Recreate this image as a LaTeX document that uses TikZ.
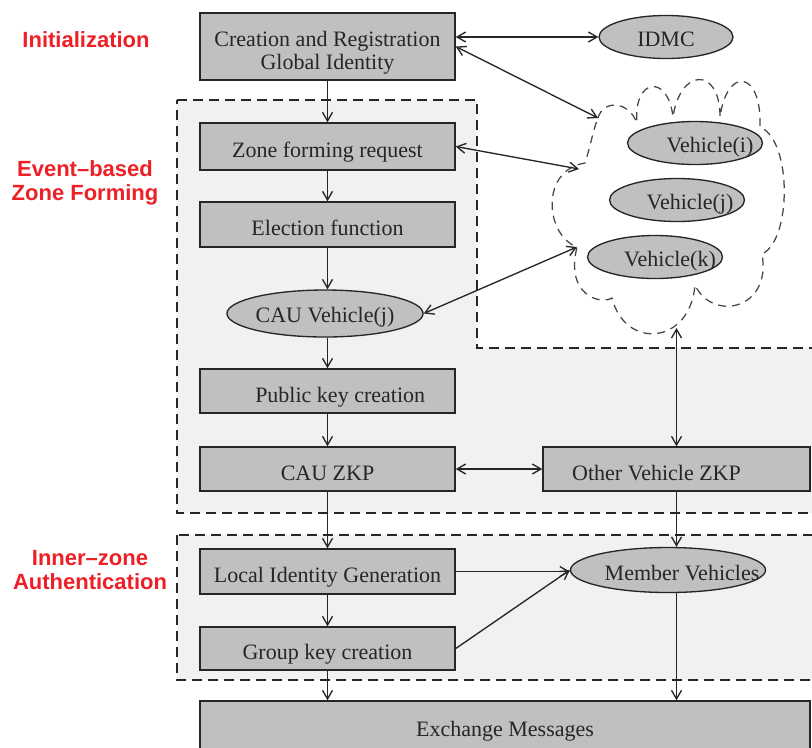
\documentclass[tikz,border=0pt]{standalone}
\usepackage{fontspec}
\setmainfont{Liberation Serif}
\newfontfamily\labelfont{Liberation Sans}
\usetikzlibrary{arrows.meta,shapes.geometric,calc}
\definecolor{boxgray}{RGB}{192,192,192}
\definecolor{zonegray}{RGB}{241,241,241}
\definecolor{phasered}{RGB}{236,32,38}
\definecolor{inkgray}{RGB}{38,38,38}

\begin{document}
\begin{tikzpicture}[x=0.75pt,y=-0.75pt,
  font=\fontsize{16.5}{17}\selectfont,
  stepbox/.style={draw=inkgray, line width=1.1pt, fill=boxgray, minimum width=191.25pt,
                  inner sep=0pt, text=black!85, align=center},
  oneline/.style={text height=17pt, text depth=0pt},
  oval/.style={ellipse, draw=inkgray, line width=1pt, fill=boxgray, inner sep=0pt, text=black!85},
  plain/.style={inner sep=0pt, text=black!85},
  link/.style={draw=inkgray, line width=1pt, -{Straight Barb[length=6.5pt,width=7.5pt]}},
  both/.style={link, {Straight Barb[length=6.5pt,width=7.5pt]}-{Straight Barb[length=6.5pt,width=7.5pt]}},
  zone/.style={draw=inkgray, fill=zonegray, line width=1.1pt, dash pattern=on 7.5pt off 4.5pt},
  cloudline/.style={draw=black!72, line width=0.95pt, dash pattern=on 6pt off 4.5pt},
  phase/.style={text=phasered, font=\labelfont\bfseries\fontsize{16.5}{18}\selectfont,
                align=center, inner sep=0pt}
]
\useasboundingbox (0,0) rectangle (812,747);
\clip (0,0) rectangle (812,747);
\fill[white] (0,0) rectangle (812,747);

% phase regions
\path[zone] (177,100) -- (477,100) -- (477,348) -- (822,348) -- (822,513) -- (177,513) -- cycle;
\path[zone] (177,535) rectangle (822,680);

% phase labels
\node[phase] (lbInit) at (86,40) {Initialization};
\node[phase] (lbZone) at (85,183) {Event–based\\Zone Forming};
\node[phase] (lbInner) at (90,570) {Inner–zone\\Authentication};

% vehicle cloud
\draw[cloudline] (598,118) .. controls (603,100) and (628,100) .. (637,123)
  .. controls (633,78) and (668,73) .. (673,117)
  .. controls (680,68) and (720,66) .. (720,117)
  .. controls (727,66) and (762,70) .. (760,127)
  .. controls (792,140) and (792,240) .. (762,254)
  .. controls (772,310) and (712,322) .. (695,285)
  .. controls (690,345) and (625,350) .. (612,298)
  .. controls (600,305) and (565,295) .. (577,247)
  .. controls (545,235) and (540,170) .. (585,163)
  .. controls (590,148) and (593,130) .. (598,118) -- cycle;
\coordinate (cA) at (598,118);
\coordinate (cB) at (579,169);
\coordinate (cC) at (577,247);
\coordinate (cBot) at (676.5,328);

% main flow boxes
\node[stepbox, minimum height=50.25pt] (init) at (327.5,46.5)
  {\rule{0pt}{20.5pt}Creation and Registration\\Global Identity};
\node[stepbox, oneline, minimum height=35.25pt] (zfr) at (327.5,146.5) {Zone forming request};
\node[stepbox, oneline, minimum height=33.75pt] (elec) at (327.5,224.5) {Election function};
\node[oval, text height=14pt, text depth=0pt, minimum width=144pt, minimum height=35.25pt] (cauv)
  at (325,313.5) {CAU Vehicle(j)};
\node[stepbox, oneline, minimum height=33pt] (pkc) at (327.5,391) {\hspace*{19pt}Public key creation};
\node[stepbox, oneline, minimum height=33pt] (czkp) at (327.5,469) {CAU ZKP};
\node[stepbox, oneline, minimum width=200.25pt, minimum height=33pt] (ovzkp) at (676.5,469)
  {Other Vehicle ZKP\hspace*{30pt}};
\node[stepbox, oneline, minimum height=33.75pt] (lig) at (327.5,571.5) {Local Identity Generation};
\node[stepbox, oneline, minimum height=32.25pt] (gkc) at (327.5,648.5) {Group key creation};
\node[stepbox, minimum width=457.5pt, minimum height=45pt] (exch) at (505,731) {Exchange Messages};

% ellipses
\node[oval, text height=14pt, text depth=0pt, minimum width=100.5pt, minimum height=32.25pt] (idmc)
  at (666,37) {IDMC};
\node[oval, minimum width=101.25pt, minimum height=32.25pt] (vi) at (695,143) {};
\node[plain] (vit) at (710,147) {Vehicle(i)};
\node[oval, minimum width=101.25pt, minimum height=32.25pt] (vj) at (677,200) {};
\node[plain] (vjt) at (690,204) {Vehicle(j)};
\node[oval, minimum width=101.25pt, minimum height=32.25pt] (vk) at (655,257) {};
\node[plain] (vkt) at (670,261) {Vehicle(k)};
\node[oval, minimum width=146.25pt, minimum height=33.75pt] (mem) at (668,570) {};
\node[plain] (memt) at (682,573) {Member Vehicles};

% connectors
\draw[link] (init) -- (zfr);
\draw[link] (zfr) -- (elec);
\draw[link] (elec.south) -- (elec.south |- cauv.north);
\draw[link] (cauv.south -| pkc.north) -- (pkc.north);
\draw[link] (pkc) -- (czkp);
\draw[link] (czkp.south) -- (czkp.south |- lig.north);
\draw[link] (lig) -- (gkc);
\draw[link] (gkc.south) -- (gkc.south |- exch.north);

\draw[both] (init.east |- idmc.west) -- (idmc.west);
\draw[both] (init.east) -- (cA);
\draw[both] (zfr.east) -- (cB);
\draw[both] (cC) -- (cauv.east);
\draw[both] (cBot) -- (ovzkp.north);
\draw[both] (czkp) -- (ovzkp);

\draw[link] (ovzkp.south) -- (ovzkp.south |- mem.north);
\draw[link] (lig.east) -- (lig.east -| mem.west);
\draw[link] (gkc.east) -- (mem.west);
\draw[link] (mem.south -| ovzkp.south) -- (ovzkp.south |- exch.north);
\end{tikzpicture}
\end{document}
